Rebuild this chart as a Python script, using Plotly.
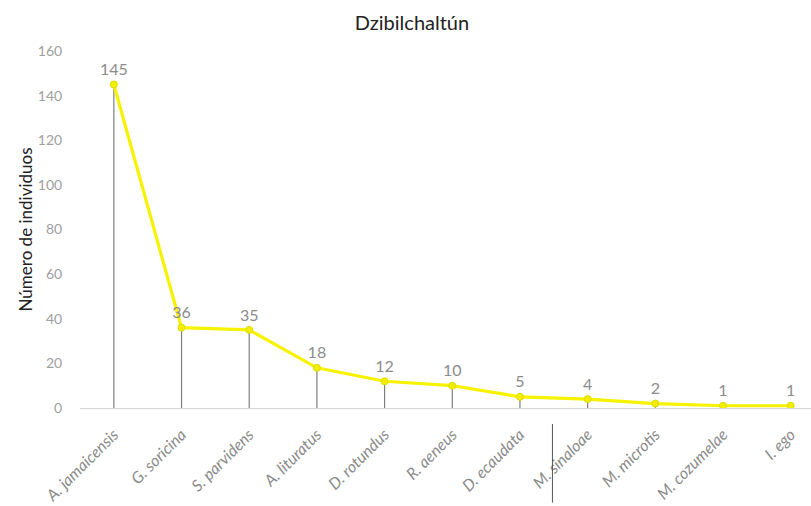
import plotly.graph_objects as go

# Species recorded at Dzibilchaltún and number of individuals captured
species = ["A. jamaicensis", "G. soricina", "S. parvidens", "A. lituratus",
           "D. rotundus", "R. aeneus", "D. ecaudata", "M. sinaloae",
           "M. microtis", "M. cozumelae", "I. ego"]
individuals = [145, 36, 35, 18, 12, 10, 5, 4, 2, 1, 1]
y_ticks = [0, 20, 40, 60, 80, 100, 120, 140, 160]

FONT = "Lato, 'Open Sans', sans-serif"
GRAY = "#8a8a8a"

# Drop lines from each point down to the category axis
drop_x, drop_y = [], []
for s, v in zip(species, individuals):
    drop_x += [s, s, None]
    drop_y += [0, v, None]

fig = go.Figure()
fig.add_trace(go.Scatter(
    x=drop_x, y=drop_y, mode="lines",
    line=dict(color="#7f7f7f", width=1.2),
    hoverinfo="skip", showlegend=False,
))
fig.add_trace(go.Scatter(
    x=species, y=individuals, mode="lines+markers+text",
    line=dict(color="#F7F300", width=3.2),
    marker=dict(color="#F2EE00", size=7, symbol="circle",
                line=dict(color="#E0DC00", width=1)),
    text=[str(v) for v in individuals],
    textposition="top center",
    textfont=dict(family=FONT, size=16, color="#8c8c8c"),
    showlegend=False,
))

# Stray separator stroke below the axis
fig.add_shape(type="line", xref="x", yref="paper",
              x0=6.48, x1=6.48, y0=-0.045, y1=-0.265,
              line=dict(color="#555555", width=1))

fig.update_layout(
    width=811, height=506,
    margin=dict(l=80, r=0, t=51, b=98),
    paper_bgcolor="white", plot_bgcolor="white",
    font=dict(family=FONT, color=GRAY),
    title=dict(text="Dzibilchaltún", x=0.508, xanchor="center",
               y=0.955, yanchor="middle",
               font=dict(family=FONT, size=20, color="#222222")),
)
fig.update_xaxes(
    type="category", categoryorder="array", categoryarray=species,
    range=[-0.5, 10.3], automargin=False,
    showgrid=False, zeroline=False,
    showline=True, linecolor="#d4d4d4", linewidth=1,
    tickangle=-45,
    tickfont=dict(family=FONT, size=16, color=GRAY, style="italic"),
    ticks="outside", ticklen=10, tickcolor="rgba(0,0,0,0)",
)
fig.update_yaxes(
    range=[0, 160], tickvals=y_ticks, automargin=False,
    showgrid=False, zeroline=False, showline=False,
    tickfont=dict(family=FONT, size=14, color="#a0a0a0"),
    ticks="outside", ticklen=14, tickcolor="rgba(0,0,0,0)",
    title=dict(text="Número de individuos", standoff=0,
               font=dict(family=FONT, size=17, color="#222222")),
)

fig.write_html("out.html")
